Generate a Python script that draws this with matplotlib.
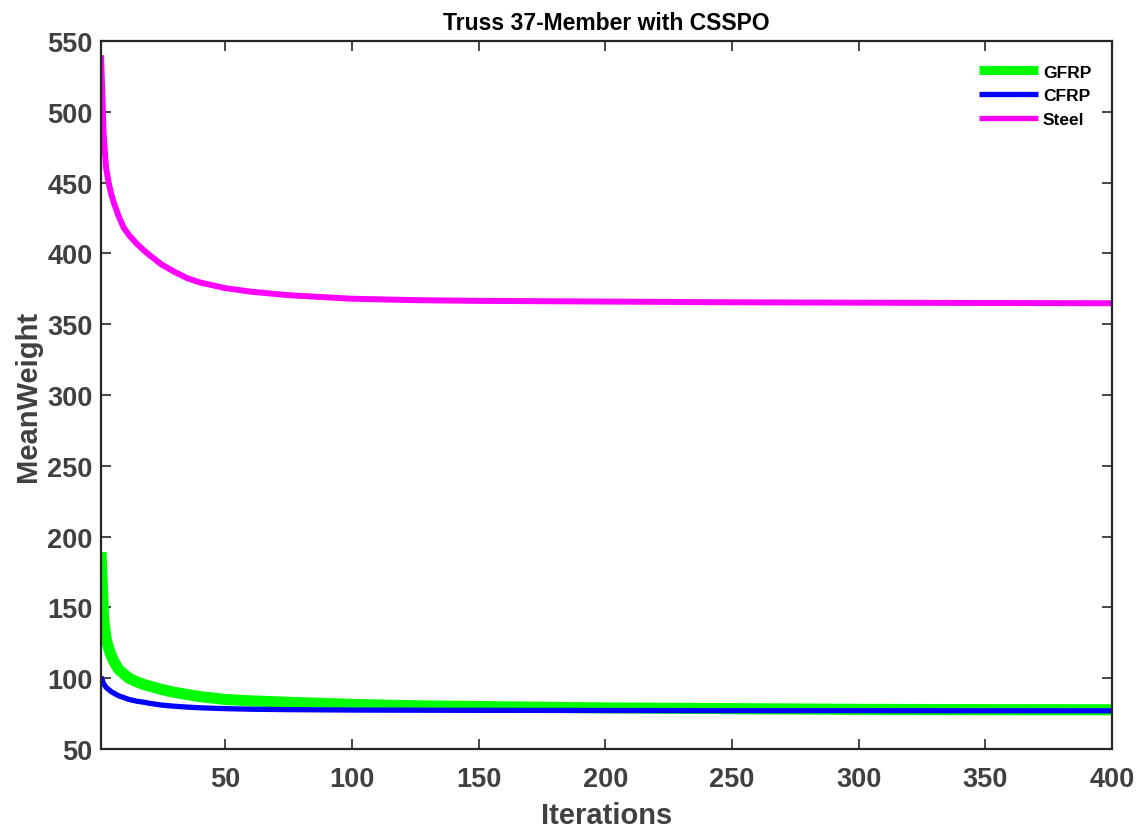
import matplotlib
matplotlib.use("Agg")
import matplotlib.pyplot as plt

plt.rcParams['font.family'] = ['Liberation Sans', 'DejaVu Sans']

iters = [1, 2, 3, 4, 5, 6, 8, 10, 12, 15, 18, 20, 25, 30, 35, 40, 50, 60, 75,
         100, 125, 150, 200, 250, 300, 350, 400]

steel = [540, 485, 460, 450, 442, 436, 426, 418, 413, 407, 402, 399, 392, 387,
         382.5, 379.5, 375.5, 373, 370.5, 368, 367, 366.5, 366, 365.5, 365.2, 365, 364.8]

gfrp = [189, 142, 128, 121, 116, 112, 106, 103, 100, 97.5, 95.5, 94.5, 92, 90,
        88.5, 87, 85, 84, 83, 81.5, 80.5, 80, 79, 78.5, 78, 77.8, 77.7]

cfrp = [101, 96, 93.5, 92, 90.5, 89.5, 87.5, 86.3, 85, 83.8, 83, 82.3, 81, 80.2,
        79.6, 79.1, 78.5, 78.1, 77.8, 77.5, 77.4, 77.3, 77.2, 77.1, 77.1, 77.0, 77.0]

xticks = [50, 100, 150, 200, 250, 300, 350, 400]
yticks = [50, 100, 150, 200, 250, 300, 350, 400, 450, 500, 550]

fig = plt.figure(figsize=(11.38, 8.29), dpi=100)
ax = fig.add_axes([0.0888, 0.0953, 0.8884, 0.854])

ax.plot(iters, gfrp, color='#00ff00', lw=8, solid_capstyle='butt', label='GFRP')
ax.plot(iters, cfrp, color='#0000ff', lw=3.8, solid_capstyle='butt', label='CFRP')
ax.plot(iters, steel, color='#ff00ff', lw=4.3, solid_capstyle='butt', label='Steel')

ax.set_xlim(1, 400)
ax.set_ylim(50, 550)
ax.set_xticks(xticks)
ax.set_yticks(yticks)

for s in ax.spines.values():
    s.set_linewidth(1.6)
    s.set_color('#262626')

ax.tick_params(direction='in', length=7, width=1.2, top=True, right=True,
               colors='#262626', labelcolor='#404040', labelsize=19.5)
ax.tick_params(axis='y', pad=6)
ax.tick_params(axis='x', pad=12)
for lab in ax.get_xticklabels() + ax.get_yticklabels():
    lab.set_fontweight('bold')

ax.set_xlabel('Iterations', fontsize=21, fontweight='bold', color='#404040', labelpad=7)
ax.set_ylabel('MeanWeight', fontsize=21, fontweight='bold', color='#404040', labelpad=4)
ax.set_title('Truss 37-Member with CSSPO', fontsize=16.5, fontweight='bold', color='black', pad=9)

leg = ax.legend(loc='upper left', bbox_to_anchor=(0.868, 0.967), frameon=False,
                borderaxespad=0, borderpad=0, handlelength=3.4, handletextpad=0.3,
                labelspacing=0.5, prop={'size': 12.5, 'weight': 'bold'})
leg.get_lines()[0].set_linewidth(6.5)
leg.get_lines()[1].set_linewidth(3.8)
leg.get_lines()[2].set_linewidth(3.8)

fig.savefig('out.png', dpi=100)
